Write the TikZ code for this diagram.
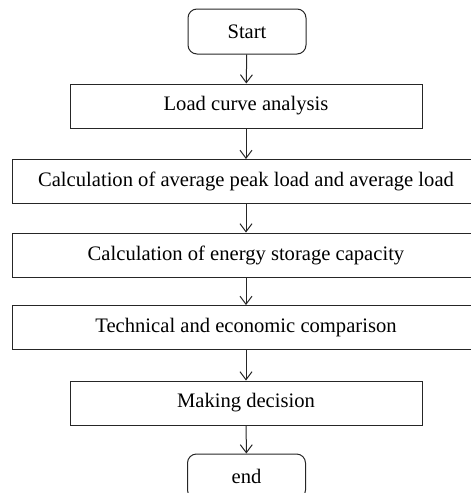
\documentclass[tikz,border=0pt]{standalone}
\usepackage{fontspec}
\setmainfont{Liberation Serif}
\usetikzlibrary{arrows.meta, positioning}

\begin{document}
\begin{tikzpicture}[
        x=1pt, y=-1pt,
        every node/.style={font=\fontsize{20.6}{24}\selectfont},
        terminal/.style={rectangle,draw,rounded corners=9pt,minimum width=118pt,minimum height=45pt,inner sep=0pt},
        stepbox/.style={rectangle,draw,minimum width=352pt,minimum height=44pt,inner sep=0pt},
        widebox/.style={rectangle,draw,minimum width=468pt,minimum height=44pt,inner sep=0pt},
        flow/.style={-{Straight Barb[length=8pt,width=12pt]}}
      ]
      \clip (0,0) rectangle (471,493);
      \useasboundingbox (0,0) rectangle (471,493);
      \tikzset{every path/.style={line width=1pt,draw=black!85}}

      % Start and end
      \node[terminal] (start) at (247,31.5) {Start};
      \node[terminal] (end) at (246.5,476.5) {end};

      % Steps
      \node[stepbox] (load) at (246,106) {Load curve analysis};
      \node[widebox] (avg) at (246,181.5) {Calculation of average peak load and average load};
      \node[widebox] (energy) at (246,255) {Calculation of energy storage capacity};
      \node[widebox] (tech) at (246,327.5) {Technical and economic comparison};
      \node[stepbox] (decide) at (246,403) {Making decision};

      % Arrows
      \draw[flow] (start) -- (load);
      \draw[flow] (load) -- (avg);
      \draw[flow] (avg) -- (energy);
      \draw[flow] (energy) -- (tech);
      \draw[flow] (tech) -- (decide);
      \draw[flow] (decide) -- (end);
    \end{tikzpicture}
\end{document}
